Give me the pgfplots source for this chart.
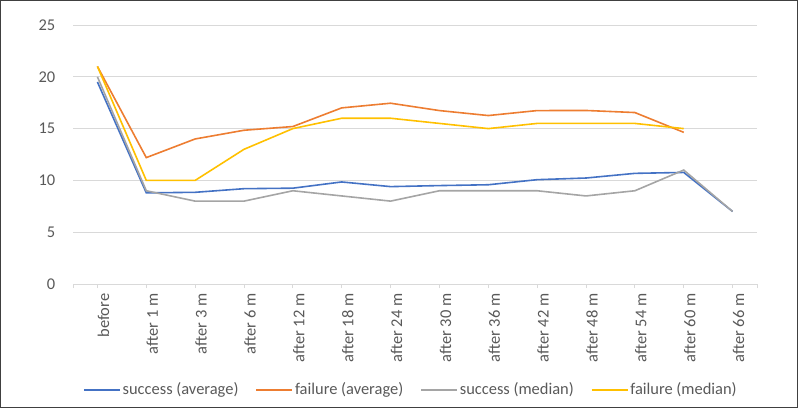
\documentclass[border=0pt]{standalone}
\usepackage{fontspec}
\setmainfont{Carlito}
\usepackage{pgfplots}
\pgfplotsset{compat=1.18}
\definecolor{cblue}{HTML}{4472C4}
\definecolor{corange}{HTML}{ED7D31}
\definecolor{cgray}{HTML}{A5A5A5}
\definecolor{cyellow}{HTML}{FFC000}
\definecolor{txtgray}{HTML}{595959}
\definecolor{gridc}{HTML}{D9D9D9}
\definecolor{bordc}{HTML}{404040}
\begin{document}
\fontsize{16.5}{19}\selectfont
\begin{tikzpicture}
\useasboundingbox (-73bp,-124bp) rectangle (725bp,284bp);
\draw[color=bordc, line width=1.5bp] (-72.25bp,-123.25bp) rectangle (724.25bp,283.25bp);
\begin{axis}[
  at={(0,0)}, anchor=south west,
  scale only axis, width=684bp, height=259bp,
  xmin=-0.5, xmax=13.5, ymin=0, ymax=25,
  ytick={0,5,...,25},
  xtick={0,...,13},
  xticklabels={before,after 1 m,after 3 m,after 6 m,after 12 m,after 18 m,after 24 m,after 30 m,after 36 m,after 42 m,after 48 m,after 54 m,after 60 m,after 66 m},
  extra x ticks={-0.5,13.5}, extra x tick labels={},
  extra x tick style={grid=none},
  axis x line*=bottom,
  axis y line*=left,
  x axis line style={color=gridc, line width=0.75bp, -},
  y axis line style={draw=none},
  ymajorgrids, grid style={color=gridc, line width=0.75bp},
  x tick style={color=gridc, line width=0.75bp},
  tick align=outside,
  major tick length=4bp,
  ytick style={draw=none},
  /pgf/number format/assume math mode=true,
  tick label style={font=\fontsize{16.5}{19}\selectfont, text=txtgray},
  yticklabel style={xshift=-8bp},
  xticklabel style={rotate=90, anchor=east, yshift=-6bp},
  legend style={at={(0.494,-0.409)}, anchor=center, draw=none, fill=none,
    legend columns=4, font=\fontsize{16.5}{19}\selectfont, text=txtgray,
    /tikz/every even column/.append style={column sep=15bp}},
  legend image code/.code={\draw[#1] (0bp,0bp) -- (36bp,0bp);},
  every axis plot/.append style={line width=1.6bp, mark=none},
  clip=false,
]
\addplot[cblue] coordinates {(0,19.5)(1,8.8)(2,8.85)(3,9.2)(4,9.25)(5,9.85)(6,9.4)(7,9.5)(8,9.58)(9,10.07)(10,10.23)(11,10.68)(12,10.77)(13,7.0)};
\addlegendentry{success (average)}
\addplot[corange] coordinates {(0,21.0)(1,12.2)(2,14.0)(3,14.84)(4,15.2)(5,17.0)(6,17.45)(7,16.74)(8,16.26)(9,16.74)(10,16.75)(11,16.55)(12,14.64)};
\addlegendentry{failure (average)}
\addplot[cgray] coordinates {(0,20)(1,9)(2,8)(3,8)(4,9)(5,8.5)(6,8)(7,9)(8,9)(9,9)(10,8.5)(11,9)(12,11)(13,7)};
\addlegendentry{success (median)}
\addplot[cyellow] coordinates {(0,21)(1,10)(2,10)(3,13)(4,15)(5,16)(6,16)(7,15.5)(8,15)(9,15.5)(10,15.5)(11,15.5)(12,15)};
\addlegendentry{failure (median)}
\end{axis}
\end{tikzpicture}
\end{document}
